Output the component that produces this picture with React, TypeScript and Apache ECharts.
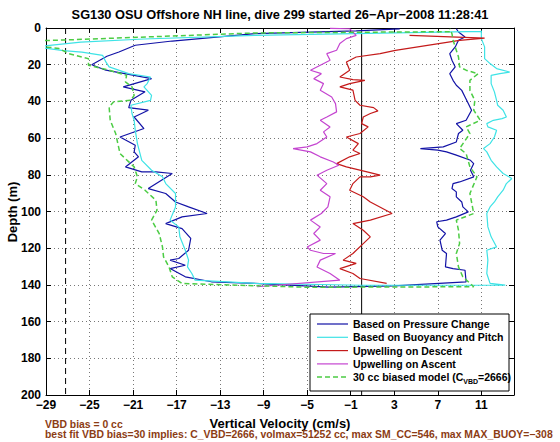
import React, { useEffect, useRef } from "react";
import * as echarts from "echarts";

// Axis settings
const X_MIN = -29;
const X_MAX = 14;
const X_STEP = 4;
const Y_MIN = 0;
const Y_MAX = 200;
const Y_STEP = 20;

// [vertical velocity (cm/s), depth (m)]
const pressureChange: [number, number][] = [
  [3.5, 0.5], [-0.5, 1.6], [-9.8, 3.1], [-17.4, 7.1], [-20.8, 9.4], [-22.3, 13.1], [-23.4, 15.4],
  [-24.8, 20.0], [-23.5, 23.0], [-19.3, 27.6], [-21.9, 32.1], [-19.9, 34.8], [-21.2, 39.4],
  [-21.4, 43.4], [-19.6, 44.8], [-20.9, 48.5], [-20.0, 54.8], [-22.2, 59.4], [-20.8, 63.9],
  [-20.9, 67.5], [-20.5, 70.2], [-21.7, 75.7], [-20.2, 78.4], [-18.9, 78.4], [-17.4, 79.3],
  [-19.6, 87.5], [-18.0, 90.2], [-17.1, 94.8], [-15.9, 97.5], [-14.2, 101.1], [-16.5, 102.9],
  [-18.0, 106.6], [-16.5, 109.3], [-15.7, 114.7], [-15.9, 121.1], [-16.8, 125.6], [-17.6, 126.5],
  [-16.2, 129.3], [-17.6, 131.1], [-16.2, 135.6], [-13.8, 138.3], [-9.8, 139.2], [-3.0, 141.2],
  [3.0, 140.5], [9.6, 138.3], [9.5, 132.0], [8.4, 131.1], [7.7, 130.2], [7.8, 122.9], [7.4, 121.1],
  [7.2, 115.6], [7.7, 112.0], [7.0, 108.4], [6.9, 105.6], [7.8, 104.7], [8.7, 102.9], [9.8, 100.2],
  [9.3, 97.5], [9.2, 94.8], [8.7, 92.0], [8.7, 89.3], [8.3, 87.5], [8.4, 84.8], [9.0, 83.9],
  [10.3, 81.1], [10.0, 77.5], [10.3, 73.9], [10.0, 72.1], [8.7, 69.3], [7.8, 67.5], [7.0, 66.6],
  [5.4, 65.7], [7.5, 64.8], [8.7, 62.1], [8.9, 57.5], [9.3, 55.7], [8.7, 52.1], [9.6, 50.3],
  [10.1, 44.8], [9.8, 41.2], [9.5, 37.6], [9.2, 34.0], [8.7, 31.2], [8.4, 28.5], [8.1, 24.9],
  [8.6, 21.2], [8.3, 17.6], [8.1, 14.0], [8.6, 10.3], [8.9, 6.7], [9.5, 4.9], [8.9, 2.2], [8.7, 0.4],
];

const buoyancyPitch: [number, number][] = [
  [11.0, 1.8], [-9.8, 4.0], [-20.0, 6.0], [-25.8, 7.7], [-30.0, 10.3], [-27.4, 12.3], [-25.7, 13.1],
  [-23.8, 14.9], [-23.5, 18.5], [-23.2, 21.2], [-21.4, 24.9], [-19.4, 26.7], [-19.7, 30.3],
  [-20.0, 32.1], [-19.3, 36.7], [-19.4, 39.4], [-21.2, 42.1], [-21.1, 46.6], [-20.9, 50.3],
  [-20.8, 55.7], [-20.6, 63.0], [-20.2, 72.1], [-19.3, 77.5], [-18.3, 81.1], [-18.0, 84.8],
  [-17.1, 90.2], [-17.1, 97.5], [-17.6, 104.7], [-16.8, 108.4], [-16.7, 113.8], [-16.2, 121.1],
  [-15.9, 126.5], [-16.0, 130.2], [-15.6, 133.8], [-15.3, 137.4], [-9.8, 139.2], [0.0, 140.2],
  [13.2, 140.1], [11.8, 139.2], [11.5, 133.8], [11.6, 126.5], [11.5, 121.1], [12.4, 119.3],
  [11.9, 113.8], [11.6, 108.4], [11.5, 101.1], [11.8, 97.5], [12.2, 94.8], [12.5, 92.0],
  [13.0, 88.4], [13.3, 84.8], [13.8, 82.0], [13.0, 79.3], [12.4, 75.7], [11.9, 72.1], [11.5, 67.5],
  [11.2, 65.7], [11.8, 63.0], [12.2, 59.4], [12.4, 55.7], [11.6, 53.9], [11.5, 52.1], [12.1, 50.3],
  [12.9, 49.4], [13.3, 48.5], [13.0, 44.8], [12.5, 42.1], [12.4, 39.4], [12.2, 34.8], [11.9, 30.3],
  [11.9, 25.8], [12.7, 24.9], [13.6, 24.0], [12.4, 22.1], [11.8, 19.4], [11.3, 16.7], [11.3, 10.3],
  [11.0, 5.8], [11.0, 1.3],
];

const upwellingDescent: [number, number][] = [
  [4.4, 4.0], [11.3, 5.5], [9.0, 6.7], [3.1, 12.2], [1.7, 14.0], [-0.5, 15.8], [-1.4, 18.5],
  [-1.1, 23.0], [-2.0, 26.7], [-0.8, 28.1], [0.3, 28.5], [-1.1, 30.3], [-2.0, 32.1], [-0.8, 33.9],
  [-0.6, 39.4], [-0.15, 42.1], [1.1, 43.4], [1.5, 45.2], [0.8, 46.6], [0.15, 48.5], [0.0, 52.1],
  [0.6, 53.9], [-0.15, 57.5], [-1.4, 59.4], [-0.3, 63.0], [-0.8, 66.6], [-0.15, 68.4], [-1.1, 70.2],
  [-2.3, 73.9], [-1.4, 75.7], [0.5, 78.4], [1.7, 80.2], [0.8, 81.1], [-0.15, 81.1], [-0.8, 84.8],
  [-1.1, 88.4], [0.15, 92.0], [0.8, 94.8], [2.8, 101.1], [0.8, 104.7], [-0.8, 106.6], [0.15, 110.2],
  [0.8, 113.8], [0.15, 117.5], [-0.8, 122.9], [-1.7, 126.5], [-0.5, 128.3], [-2.0, 131.1],
  [-0.8, 133.8], [-0.15, 136.5], [2.3, 139.2],
];

const upwellingAscent: [number, number][] = [
  [-2.9, 0.2], [-1.1, 0.4], [-0.5, 4.0], [-1.4, 5.8], [-2.0, 8.5], [-2.3, 12.1], [-3.2, 14.0],
  [-2.9, 17.6], [-3.8, 20.3], [-4.7, 23.0], [-3.7, 24.9], [-4.4, 27.6], [-3.5, 30.3], [-3.8, 33.9],
  [-2.75, 37.6], [-2.4, 41.2], [-2.3, 45.7], [-3.2, 48.5], [-3.8, 50.3], [-2.9, 53.9], [-3.5, 56.6],
  [-3.2, 59.4], [-4.1, 63.0], [-5.0, 64.8], [-6.3, 65.7], [-4.7, 67.5], [-3.8, 70.2], [-2.6, 73.0],
  [-2.1, 74.8], [-3.2, 77.5], [-4.1, 80.2], [-3.2, 84.8], [-3.8, 88.4], [-2.9, 92.0], [-3.1, 97.5],
  [-3.7, 101.1], [-4.7, 104.7], [-3.8, 108.4], [-4.4, 112.0], [-3.8, 115.6], [-5.0, 119.3],
  [-4.7, 121.1], [-3.5, 122.9], [-2.4, 122.9], [-3.8, 126.5], [-4.1, 130.2], [-2.9, 133.8],
  [-2.0, 137.4], [-9.6, 141.0],
];

const biasedModel: [number, number][] = [
  [8.1, 2.0], [-9.8, 2.7], [-28.1, 6.7], [-33.2, 7.2], [-30.8, 8.6], [-33.0, 9.8], [-28.5, 10.6],
  [-27.8, 11.2], [-26.9, 14.0], [-25.1, 16.7], [-25.1, 20.3], [-23.2, 23.0], [-21.6, 25.8],
  [-21.7, 29.4], [-21.1, 32.1], [-20.9, 36.7], [-21.2, 39.4], [-22.8, 40.3], [-23.2, 43.0],
  [-23.1, 50.3], [-22.6, 57.5], [-22.2, 68.4], [-20.9, 75.7], [-20.6, 81.1], [-20.8, 84.8],
  [-19.9, 88.4], [-18.9, 93.9], [-18.8, 99.3], [-19.3, 104.7], [-18.6, 112.0], [-18.3, 119.3],
  [-18.2, 124.7], [-17.7, 130.2], [-17.4, 135.6], [-16.5, 139.2], [-5.0, 141.3], [10.3, 141.0],
  [9.3, 135.6], [8.9, 130.2], [8.7, 122.9], [9.0, 117.4], [8.9, 110.2], [8.7, 104.7], [10.3, 101.1],
  [9.95, 90.2], [10.6, 81.1], [9.95, 75.7], [9.6, 68.4], [9.0, 65.7], [9.95, 57.5], [9.6, 53.9],
  [10.9, 50.3], [10.3, 44.8], [10.4, 39.4], [9.95, 34.0], [9.95, 28.5], [10.7, 24.9], [9.6, 23.0],
  [9.0, 21.2], [8.9, 15.8], [8.6, 10.3], [8.4, 6.7], [8.3, 3.1], [8.1, 0.4],
];

const dashedRefX = -27.2;
const solidRefX = 0;

const seriesNames = [
  "Based on Pressure Change",
  "Based on Buoyancy and Pitch",
  "Upwelling on Descent",
  "Upwelling on Ascent",
  "30 cc biased model (C{sub|VBD}=2666)",
];
const seriesColors = ["#1212a6", "#3ee3e6", "#c41a1a", "#c444d0", "#4ccc44"];

const titleText = "SG130 OSU Offshore NH line, dive 299 started 26\u2212Apr\u22122008 11:28:41";
const xAxisTitle = "Vertical Velocity (cm/s)";
const yAxisTitle = "Depth (m)";
const noteLine1 = "VBD bias = 0 cc";
const noteLine2 =
  "best fit VBD bias=30 implies: C_VBD=2666, volmax=51252 cc, max SM_CC=546, max MAX_BUOY=\u2212308";

const FONT = '"Liberation Sans", Arial, Helvetica, sans-serif';

export default function App() {
  const ref = useRef<HTMLDivElement>(null);

  useEffect(() => {
    if (!ref.current) return;
    const chart = echarts.init(ref.current, undefined, { renderer: "svg" });

    const gridLeft = 46;
    const gridTop = 28;
    const gridW = 468;
    const gridH = 367;

    const fmt = (v: number) => (v < 0 ? "\u2212" + Math.abs(v) : String(v));

    const baseX = {
      type: "value" as const,
      min: X_MIN,
      max: X_MAX,
      interval: X_STEP,
      axisLine: { show: true, onZero: false, lineStyle: { color: "#000", width: 1 } },
      axisTick: { show: true, inside: true, length: 5, lineStyle: { color: "#000" } },
    };
    const baseY = {
      type: "value" as const,
      min: Y_MIN,
      max: Y_MAX,
      interval: Y_STEP,
      inverse: true,
      axisLine: { show: true, onZero: false, lineStyle: { color: "#000", width: 1 } },
      axisTick: { show: true, inside: true, length: 5, lineStyle: { color: "#000" } },
    };

    const lineSeries = (
      name: string,
      data: [number, number][],
      color: string,
      dashed = false,
      z = 3
    ) => ({
      name,
      type: "line",
      data,
      symbol: "none",
      clip: false,
      z,
      lineStyle: { color, width: dashed ? 1.5 : 1.2, type: dashed ? [5, 3] : "solid" },
      emphasis: { disabled: true },
    });

    const legendX = 310;
    const legendY = 314;
    const rowYs = [324, 337.3, 350.6, 363.9, 377];

    const legendEls: any[] = [
      {
        type: "rect",
        shape: { x: legendX, y: legendY, width: 199, height: 77 },
        style: { fill: "#fff", stroke: "#000", lineWidth: 1 },
        z: 100,
      },
    ];
    seriesNames.forEach((n, i) => {
      legendEls.push({
        type: "line",
        shape: { x1: 317, y1: rowYs[i], x2: 348, y2: rowYs[i] },
        style: {
          stroke: seriesColors[i],
          lineWidth: i === 4 ? 1.5 : 1.2,
          lineDash: i === 4 ? [5, 3] : null,
        },
        z: 101,
      });
      legendEls.push({
        type: "text",
        x: 353,
        y: rowYs[i],
        style: {
          text: n,
          font: `bold 10.5px ${FONT}`,
          fill: "#000",
          textAlign: "left",
          textVerticalAlign: "middle",
          rich: {
            sub: {
              fontSize: 7,
              fontWeight: "bold",
              fontFamily: FONT,
              verticalAlign: "bottom",
              lineHeight: 15,
            },
          },
        },
        z: 101,
      });
    });

    chart.setOption({
      animation: false,
      backgroundColor: "#fff",
      grid: { left: gridLeft, top: gridTop, width: gridW, height: gridH, containLabel: false },
      xAxis: [
        {
          ...baseX,
          position: "bottom",
          axisLabel: {
            show: true,
            color: "#000",
            fontWeight: "bold",
            fontSize: 12,
            fontFamily: FONT,
            margin: 4,
            formatter: (v: number) => (v > 11 ? "" : fmt(v)),
          },
          splitLine: { show: true, lineStyle: { color: "#777", type: [1, 3], width: 1 } },
        },
        {
          ...baseX,
          position: "top",
          axisLabel: { show: false },
          splitLine: { show: false },
        },
      ],
      yAxis: [
        {
          ...baseY,
          position: "left",
          axisLabel: {
            show: true,
            color: "#000",
            fontWeight: "bold",
            fontSize: 12,
            fontFamily: FONT,
            margin: 5,
          },
          splitLine: { show: true, lineStyle: { color: "#777", type: [1, 3], width: 1 } },
        },
        {
          ...baseY,
          position: "right",
          axisLabel: { show: false },
          splitLine: { show: false },
        },
      ],
      series: [
        {
          type: "line",
          data: [
            [dashedRefX, Y_MIN],
            [dashedRefX, Y_MAX],
          ],
          symbol: "none",
          z: 2,
          lineStyle: { color: "#000", width: 1, type: [6, 4] },
          emphasis: { disabled: true },
        },
        {
          type: "line",
          data: [
            [solidRefX, Y_MIN],
            [solidRefX, Y_MAX],
          ],
          symbol: "none",
          z: 2,
          lineStyle: { color: "#000", width: 1 },
          emphasis: { disabled: true },
        },
        lineSeries(seriesNames[0], pressureChange, seriesColors[0]),
        lineSeries(seriesNames[1], buoyancyPitch, seriesColors[1]),
        lineSeries(seriesNames[2], upwellingDescent, seriesColors[2]),
        lineSeries(seriesNames[3], upwellingAscent, seriesColors[3]),
        lineSeries(seriesNames[4], biasedModel, seriesColors[4], true, 4),
      ],
      graphic: [
        {
          type: "text",
          x: 280,
          y: 14,
          style: {
            text: titleText,
            font: `bold 12.8px ${FONT}`,
            fill: "#000",
            textAlign: "center",
            textVerticalAlign: "middle",
          },
        },
        {
          type: "text",
          x: 280,
          y: 423,
          style: {
            text: xAxisTitle,
            font: `bold 13px ${FONT}`,
            fill: "#000",
            textAlign: "center",
            textVerticalAlign: "middle",
          },
        },
        {
          type: "text",
          x: 12,
          y: 212,
          rotation: Math.PI / 2,
          style: {
            text: yAxisTitle,
            font: `bold 13px ${FONT}`,
            fill: "#000",
            textAlign: "center",
            textVerticalAlign: "middle",
          },
        },
        {
          type: "text",
          x: 45,
          y: 424,
          style: {
            text: noteLine1,
            font: `bold 10.4px ${FONT}`,
            fill: "#8c3c14",
            textAlign: "left",
            textVerticalAlign: "middle",
          },
        },
        {
          type: "text",
          x: 45,
          y: 434.5,
          style: {
            text: noteLine2,
            font: `bold 10.4px ${FONT}`,
            fill: "#8c3c14",
            textAlign: "left",
            textVerticalAlign: "middle",
          },
        },
        ...legendEls,
      ],
    });

    return () => chart.dispose();
  }, []);

  return (
    <div
      ref={ref}
      style={{ position: "absolute", left: 0, top: 0, width: 560, height: 442, background: "#fff" }}
    />
  );
}
